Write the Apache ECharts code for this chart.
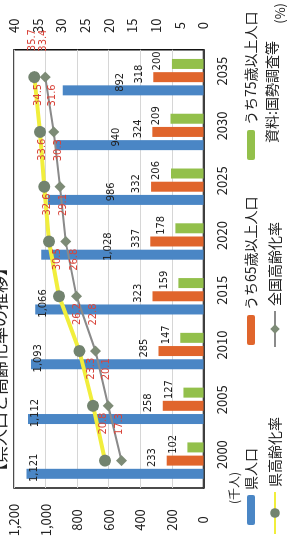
<!DOCTYPE html>
<html>
<head>
<meta charset="utf-8">
<script src="https://cdn.jsdelivr.net/npm/echarts@6/dist/echarts.min.js"></script>
<style>
html,body{margin:0;padding:0;background:#fff;overflow:hidden;width:287px;height:540px;}
#c{position:absolute;left:0;top:0;width:540px;height:287px;transform-origin:0 0;transform:translate(0,540px) rotate(-90deg);}
</style>
</head>
<body>
<div id="c"></div>
<script>
const years = ['2000','2005','2010','2015','2020','2025','2030','2035'];
const popTotal = [1121,1112,1093,1066,1028,986,940,892];
const pop65 = [233,258,285,323,337,332,324,318];
const pop75 = [102,127,147,159,178,206,209,200];
const rateKen = [20.8,23.3,26.2,30.5,32.6,33.6,34.5,35.7];
const rateZenkoku = [17.3,20.1,22.8,26.8,29.1,30.3,31.6,33.4];
const popAxis = {min:0, max:1200, interval:200};
const rateAxis = {min:0, max:40, interval:5};

const FONT = '"Noto Sans CJK JP","Noto Sans",sans-serif';
const NARROW = '"Liberation Sans Narrow","DejaVu Sans Condensed",sans-serif';
const chart = echarts.init(document.getElementById('c'), null, {renderer:'canvas'});
const comma = v => Number(v).toLocaleString('en-US');

const blueData = popTotal.map((v,i)=>({
  value:v,
  label: i<4 ? {position:'insideTop', distance:2, offset:[6,0]}
             : {position:['50%','41%'], align:'center', verticalAlign:'middle', offset:[8,0]}
}));

const barLabel = {show:true, fontSize:11, color:'#222', fontFamily:NARROW, formatter:p=>comma(p.value)};
const lineLabel = {show:true, position:'right', distance:20, offset:[0,-2], fontSize:11, color:'#d8453b',
  fontFamily:NARROW, formatter:p=>p.value.toFixed(1)};

const legendBase = {orient:'horizontal', itemWidth:30, itemHeight:8, textStyle:{fontSize:14, color:'#222', fontFamily:FONT}, selectedMode:false};

chart.setOption({
  animation:false,
  backgroundColor:'#fff',
  textStyle:{fontFamily:FONT},
  grid:{left:52, right:43, top:14, bottom:83, show:true, borderColor:'#111', borderWidth:1.5, backgroundColor:'transparent'},
  xAxis:{type:'category', data:years, axisTick:{show:false},
    axisLine:{lineStyle:{color:'#111', width:1.5}},
    axisLabel:{fontSize:13, color:'#222', margin:12, padding:[0,0,0,12]}},
  yAxis:[
    {type:'value', min:popAxis.min, max:popAxis.max, interval:popAxis.interval, position:'left',
     name:'(千人)', nameLocation:'start', nameGap:22, nameTextStyle:{fontSize:12, color:'#222', align:'center', verticalAlign:'middle'},
     axisLine:{show:false}, axisTick:{show:false},
     splitLine:{lineStyle:{color:'#d6d6d6', width:1}},
     axisLabel:{fontSize:13, color:'#222', align:'center', margin:32, formatter:v=>comma(v)}},
    {type:'value', min:rateAxis.min, max:rateAxis.max, interval:rateAxis.interval, position:'right',
     name:'(%)', nameLocation:'start', nameGap:77, nameTextStyle:{fontSize:13, color:'#222', align:'left', verticalAlign:'middle', padding:[0,0,0,26]},
     axisLine:{show:false}, axisTick:{show:false}, splitLine:{show:false},
     axisLabel:{fontSize:13, color:'#222', align:'center', margin:24}}
  ],
  legend:[
    Object.assign({}, legendBase, {data:['県人口'], left:10, top:239}),
    Object.assign({}, legendBase, {data:['うち65歳以上人口'], left:190, top:239}),
    Object.assign({}, legendBase, {data:['うち75歳以上人口'], left:375, top:239}),
    Object.assign({}, legendBase, {data:['県高齢化率'], left:0, top:263, itemWidth:42, itemHeight:12}),
    Object.assign({}, legendBase, {data:['全国高齢化率'], left:187, top:263, itemWidth:36, itemHeight:12})
  ],
  graphic:[
    {type:'text', left:60, top:-9, style:{text:'【県人口と高齢化率の推移】', fontSize:17, fill:'#222', fontFamily:FONT}},
    {type:'text', left:397, top:265, style:{text:'資料:国勢調査等', fontSize:14, fill:'#222', fontFamily:FONT}}
  ],
  series:[
    {name:'県人口', type:'bar', yAxisIndex:0, data:blueData, barWidth:10, barGap:'32%',
     itemStyle:{color:'#4a86c5'}, label:Object.assign({}, barLabel), z:2},
    {name:'うち65歳以上人口', type:'bar', yAxisIndex:0, data:pop65, barWidth:10, barGap:'32%',
     itemStyle:{color:'#e0652c'}, label:Object.assign({}, barLabel, {position:'top', distance:9, offset:[3,0]}), z:2},
    {name:'うち75歳以上人口', type:'bar', yAxisIndex:0, data:pop75, barWidth:10, barGap:'32%',
     itemStyle:{color:'#93c04b'}, label:Object.assign({}, barLabel, {position:'top', distance:9, offset:[3,0]}), z:2},
    {name:'県高齢化率', type:'line', yAxisIndex:1, data:rateKen, symbol:'circle', symbolSize:12,
     lineStyle:{color:'#f1ee3c', width:4}, itemStyle:{color:'#72836f'}, label:lineLabel, z:5},
    {name:'全国高齢化率', type:'line', yAxisIndex:1, data:rateZenkoku, symbol:'diamond', symbolSize:11,
     lineStyle:{color:'#8a8a8a', width:2}, itemStyle:{color:'#7d8b76'}, label:lineLabel, z:4}
  ]
});
</script>
</body>
</html>
